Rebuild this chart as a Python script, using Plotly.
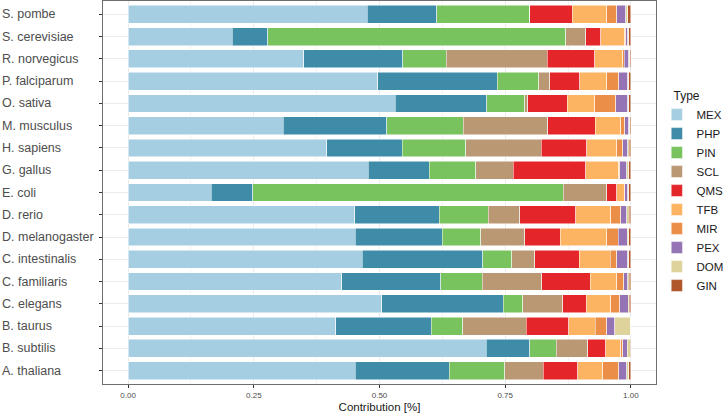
import plotly.graph_objects as go

organisms = ["S. pombe", "S. cerevisiae", "R. norvegicus", "P. falciparum", "O. sativa",
             "M. musculus", "H. sapiens", "G. gallus", "E. coli", "D. rerio",
             "D. melanogaster", "C. intestinalis", "C. familiaris", "C. elegans",
             "B. taurus", "B. subtilis", "A. thaliana"]

types = ["MEX", "PHP", "PIN", "SCL", "QMS", "TFB", "MIR", "PEX", "DOM", "GIN"]

MEX = [0.4755, 0.2066, 0.3490, 0.4967, 0.5318, 0.3086, 0.3954, 0.4775, 0.1649, 0.4503, 0.4517, 0.4656, 0.4252, 0.5046, 0.4126, 0.7119, 0.4517]
PHP = [0.1385, 0.0709, 0.1974, 0.2371, 0.1814, 0.2060, 0.1496, 0.1212, 0.0828, 0.1682, 0.1728, 0.2397, 0.1967, 0.2411, 0.1907, 0.0874, 0.1867]
PIN = [0.1847, 0.5934, 0.0861, 0.0828, 0.0762, 0.1523, 0.1265, 0.0927, 0.6179, 0.0974, 0.0768, 0.0576, 0.0821, 0.0397, 0.0623, 0.0524, 0.1106]
SCL = [0.0000, 0.0397, 0.2013, 0.0225, 0.0053, 0.1682, 0.1504, 0.0742, 0.0867, 0.0629, 0.0881, 0.0457, 0.1192, 0.0795, 0.1265, 0.0622, 0.0768]
QMS = [0.0847, 0.0298, 0.0947, 0.0596, 0.0788, 0.0940, 0.0900, 0.1450, 0.0192, 0.1119, 0.0702, 0.0888, 0.0960, 0.0464, 0.0847, 0.0358, 0.0689]
TFB = [0.0689, 0.0477, 0.0556, 0.0536, 0.0550, 0.0510, 0.0603, 0.0656, 0.0153, 0.0696, 0.0927, 0.0615, 0.0530, 0.0490, 0.0523, 0.0304, 0.0497]
MIR = [0.0199, 0.0013, 0.0027, 0.0232, 0.0410, 0.0073, 0.0112, 0.0013, 0.0006, 0.0192, 0.0225, 0.0126, 0.0132, 0.0172, 0.0226, 0.0033, 0.0311]
PEX = [0.0172, 0.0040, 0.0093, 0.0185, 0.0245, 0.0080, 0.0106, 0.0139, 0.0066, 0.0126, 0.0179, 0.0225, 0.0086, 0.0172, 0.0165, 0.0093, 0.0166]
DOM = [0.0040, 0.0020, 0.0020, 0.0020, 0.0020, 0.0026, 0.0027, 0.0046, 0.0020, 0.0046, 0.0033, 0.0020, 0.0027, 0.0020, 0.0318, 0.0060, 0.0039]
GIN = [0.0060, 0.0046, 0.0020, 0.0040, 0.0040, 0.0020, 0.0033, 0.0040, 0.0040, 0.0033, 0.0040, 0.0040, 0.0033, 0.0033, 0.0000, 0.0010, 0.0040]

x_ticks = [0.0, 0.25, 0.5, 0.75, 1.0]
x_tick_labels = ["0.00", "0.25", "0.50", "0.75", "1.00"]

series = {"MEX": MEX, "PHP": PHP, "PIN": PIN, "SCL": SCL, "QMS": QMS,
          "TFB": TFB, "MIR": MIR, "PEX": PEX, "DOM": DOM, "GIN": GIN}
colors = {"MEX": "#A6CEE3", "PHP": "#3E8CA8", "PIN": "#78C35D", "SCL": "#BA9874",
          "QMS": "#E4262A", "TFB": "#FDB462", "MIR": "#EB8E47", "PEX": "#9474B4",
          "DOM": "#DDD39B", "GIN": "#B0562A"}

FONT = "Liberation Sans, Arial, Helvetica, sans-serif"
W, H = 723, 413
ML, MR, MT, MB = 103, 67, 1, 29

fig = go.Figure()
for t in types:
    fig.add_trace(go.Bar(
        y=organisms, x=series[t], name=t, orientation="h",
        marker=dict(color=colors[t], line=dict(color="white", width=0.5)),
        width=0.8,
    ))

# left-aligned category labels (ggplot hjust = 0 style)
for org in organisms:
    fig.add_annotation(
        xref="paper", yref="y", x=-ML / (W - ML - MR), y=org,
        text=org, showarrow=False, xanchor="left", yanchor="middle",
        font=dict(family=FONT, size=12.5, color="#4D4D4D"),
    )

fig.update_layout(
    barmode="stack",
    width=W, height=H,
    margin=dict(l=ML, r=MR, t=MT, b=MB, autoexpand=False),
    paper_bgcolor="white", plot_bgcolor="white",
    font=dict(family=FONT, color="#4D4D4D"),
    legend=dict(
        title=dict(text="Type", font=dict(size=12, color="#1A1A1A")),
        font=dict(size=11.5, color="#1A1A1A"),
        x=1.028, xanchor="left", y=0.5, yanchor="middle",
        traceorder="normal", indentation=-15,
        bgcolor="rgba(0,0,0,0)",
    ),
    showlegend=True,
)

fig.update_xaxes(
    range=[-0.05, 1.05],
    tickmode="array", tickvals=x_ticks, ticktext=x_tick_labels,
    tickfont=dict(size=8, color="#4D4D4D"),
    ticks="outside", ticklen=3, tickcolor="#333333", tickwidth=1,
    showgrid=True, gridcolor="#EBEBEB", gridwidth=1,
    minor=dict(dtick=0.125, tick0=0.125, showgrid=True, gridcolor="#F2F2F2", gridwidth=0.6),
    showline=True, mirror=True, linecolor="#6E6E6E", linewidth=1,
    zeroline=False,
    title=dict(text="Contribution [%]", font=dict(size=11.5, color="#1A1A1A"), standoff=4),
)
fig.update_yaxes(
    categoryorder="array", categoryarray=list(reversed(organisms)),
    range=[-0.6, len(organisms) - 0.4],
    showticklabels=False,
    ticks="outside", ticklen=3, tickcolor="#333333", tickwidth=1,
    showgrid=True, gridcolor="#EBEBEB", gridwidth=1,
    showline=True, mirror=True, linecolor="#6E6E6E", linewidth=1,
    zeroline=False,
)

fig.write_html(
    "out.html",
    config={"displayModeBar": False},
    post_script="document.body.style.margin='0';document.body.style.padding='0';",
)
